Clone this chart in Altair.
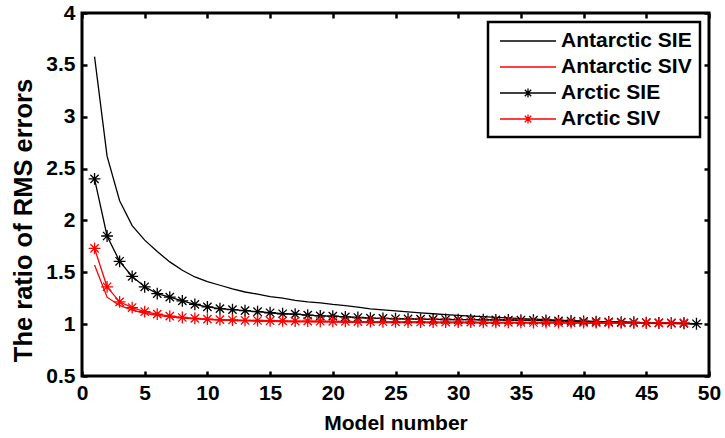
import altair as alt
import pandas as pd

# ---------------- data ----------------
model_number = list(range(1, 50))

antarctic_sie = [3.58, 2.62, 2.19, 1.95, 1.81, 1.70, 1.60, 1.52, 1.455, 1.41,
                 1.375, 1.34, 1.31, 1.29, 1.265, 1.25, 1.23, 1.215, 1.205, 1.19,
                 1.178, 1.165, 1.148, 1.138, 1.128, 1.118, 1.108, 1.10, 1.092, 1.085,
                 1.078, 1.072, 1.066, 1.06, 1.054, 1.048, 1.043, 1.038, 1.034, 1.03,
                 1.026, 1.022, 1.019, 1.016, 1.013, 1.01, 1.007, 1.004, 1.002]

antarctic_siv = [1.57, 1.26, 1.18, 1.135, 1.105, 1.085, 1.07, 1.058, 1.05, 1.043,
                 1.038, 1.034, 1.031, 1.028, 1.026, 1.024, 1.022, 1.021, 1.02, 1.019,
                 1.018, 1.017, 1.016, 1.015, 1.015, 1.014, 1.014, 1.013, 1.013, 1.012,
                 1.012, 1.011, 1.011, 1.01, 1.01, 1.01, 1.009, 1.009, 1.009, 1.008,
                 1.008, 1.008, 1.007, 1.007, 1.007, 1.006, 1.006, 1.006]

arctic_sie = [2.40, 1.85, 1.606, 1.46, 1.36, 1.295, 1.26, 1.225, 1.19, 1.167,
              1.15, 1.14, 1.13, 1.12, 1.11, 1.10, 1.096, 1.087, 1.08, 1.077,
              1.07, 1.064, 1.058, 1.055, 1.052, 1.05, 1.048, 1.046, 1.045, 1.044,
              1.043, 1.042, 1.041, 1.04, 1.039, 1.038, 1.035, 1.032, 1.03, 1.027,
              1.025, 1.022, 1.02, 1.018, 1.015, 1.012, 1.01, 1.007, 1.004]

arctic_siv = [1.73, 1.36, 1.215, 1.16, 1.12, 1.096, 1.077, 1.064, 1.055, 1.048,
              1.043, 1.04, 1.037, 1.035, 1.033, 1.031, 1.03, 1.029, 1.028, 1.027,
              1.026, 1.025, 1.024, 1.023, 1.022, 1.021, 1.021, 1.02, 1.02, 1.019,
              1.019, 1.018, 1.018, 1.017, 1.017, 1.016, 1.016, 1.015, 1.015, 1.014,
              1.014, 1.014, 1.013, 1.013, 1.013, 1.012, 1.012, 1.012]

series_names = ["Antarctic SIE", "Antarctic SIV", "Arctic SIE", "Arctic SIV"]
series_colors = ["#000000", "#ff0000", "#000000", "#ff0000"]
x_ticks = [0, 5, 10, 15, 20, 25, 30, 35, 40, 45, 50]
y_ticks = [0.5, 1, 1.5, 2, 2.5, 3, 3.5, 4]

rows = []
for name, vals in zip(series_names, [antarctic_sie, antarctic_siv, arctic_sie, arctic_siv]):
    for m, v in zip(model_number, vals):
        rows.append({"model": m, "ratio": v, "series": name})
df = pd.DataFrame(rows)

# ---------------- styling ----------------
FONT = "Liberation Sans"
STAR = "M-1,0H1M0,-1V1M-0.7,-0.7L0.7,0.7M-0.7,0.7L0.7,-0.7"
LEG_LINE = "M-2.8,0H2.8"
LEG_STAR = "M-2.8,0H2.8M-0.45,0H0.45M0,-0.45V0.45M-0.32,-0.32L0.32,0.32M-0.32,0.32L0.32,-0.32"

x_scale = alt.Scale(domain=[0, 50], nice=False, zero=False)
y_scale = alt.Scale(domain=[0.5, 4], nice=False, zero=False)
# stroke scale for the drawn marks (listed in another order so that its
# hidden legend is not merged with the visible colour/shape legend)
stroke_scale = alt.Scale(domain=list(reversed(series_names)),
                         range=list(reversed(series_colors)))

common_axis = dict(offset=-5, tickSize=5, tickWidth=2.5, tickColor="black",
                   domain=False, grid=False)

x_bottom = alt.Axis(orient="bottom", values=x_ticks, labelFont=FONT, labelFontSize=21,
                    labelFontWeight="bold", labelColor="black", labelPadding=6,
                    labelFlush=False, labelOverlap=False,
                    title="Model number", titleFont=FONT, titleFontSize=21,
                    titleFontWeight="bold", titleColor="black", titlePadding=9,
                    **common_axis)
x_top = alt.Axis(orient="top", values=x_ticks, labels=False, title=None, **common_axis)

y_left = alt.Axis(orient="left", values=y_ticks, format="~g", labelFont=FONT,
                  labelFontSize=21, labelFontWeight="bold", labelColor="black",
                  labelPadding=7, labelOverlap=False, labelFlush=False,
                  title="The ratio of RMS errors", titleFont=FONT, titleFontSize=25.5,
                  titleFontWeight="bold", titleColor="black", titlePadding=9,
                  titleY=207, **common_axis)
y_right = alt.Axis(orient="right", values=y_ticks, labels=False, title=None, **common_axis)

lines = alt.Chart(df).mark_line(strokeWidth=1.3).encode(
    x=alt.X("model:Q", scale=x_scale, axis=x_bottom),
    y=alt.Y("ratio:Q", scale=y_scale, axis=y_left),
    stroke=alt.Stroke("series:N", scale=stroke_scale, legend=None),
)

stars = alt.Chart(df).transform_filter(
    alt.FieldOneOfPredicate(field="series", oneOf=["Arctic SIE", "Arctic SIV"])
).mark_point(shape=STAR, size=140, filled=False, strokeWidth=1.3, opacity=1).encode(
    x=alt.X("model:Q", scale=x_scale, axis=x_top),
    y=alt.Y("ratio:Q", scale=y_scale, axis=y_right),
    stroke=alt.Stroke("series:N", scale=stroke_scale, legend=None),
)

legend_def = alt.Legend(
    title=None, orient="top-right", offset=9, fillColor="white", strokeColor="black",
    padding=8, labelFont=FONT, labelFontSize=21, labelFontWeight="bold",
    labelColor="black", labelLimit=400, symbolSize=400, symbolStrokeWidth=1.3,
    symbolOffset=21, labelOffset=22, rowPadding=5, symbolOpacity=1,
)

legend_layer = alt.Chart(df).transform_filter(alt.datum.model == 1).mark_point(
    opacity=0, filled=False
).encode(
    x=alt.X("model:Q", scale=x_scale, axis=None),
    y=alt.Y("ratio:Q", scale=y_scale, axis=None),
    color=alt.Color("series:N", scale=alt.Scale(domain=series_names, range=series_colors),
                    legend=legend_def),
    shape=alt.Shape("series:N",
                    scale=alt.Scale(domain=series_names,
                                    range=[LEG_LINE, LEG_LINE, LEG_STAR, LEG_STAR]),
                    legend=legend_def),
)

chart = alt.layer(lines, stars, legend_layer).properties(
    width=627, height=363,
    padding={"left": 82, "top": 13, "right": 16, "bottom": 62},
    autosize=alt.AutoSizeParams(type="none"),
).configure_view(stroke="black", strokeWidth=3).configure_legend(strokeWidth=2.5)

chart.save("out.html", embed_options={"renderer": "svg", "actions": False})
